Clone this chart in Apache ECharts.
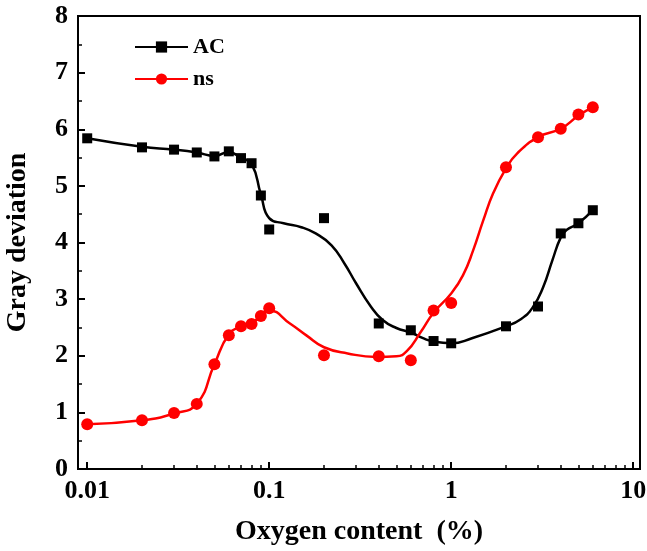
<!DOCTYPE html>
<html lang="en">
<head>
  <meta charset="UTF-8">
  <title>Gray deviation</title>
  <style>
    html,body{margin:0;padding:0;background:#fff;}
    #main{width:647px;height:551px;}
  </style>
</head>
<body>
  <div id="main"></div>
  <script src="https://cdn.jsdelivr.net/npm/echarts@6/dist/echarts.min.js"></script>
  <script>
    // measured samples: oxygen content (%) and gray deviation
    const xValues=[0.01,0.02,0.03,0.04,0.05,0.06,0.07,0.08,0.09,0.1,0.2,0.4,0.6,0.8,1,2,3,4,5,6];
    const acValues=[5.84,5.68,5.64,5.59,5.52,5.61,5.49,5.40,4.83,4.23,4.43,2.57,2.45,2.26,2.22,2.52,2.87,4.16,4.34,4.57];
    const nsValues=[0.79,0.86,0.99,1.15,1.85,2.36,2.52,2.56,2.70,2.84,2.01,1.99,1.92,2.80,2.93,5.33,5.86,6.01,6.26,6.39];

    // fitted curves (they do not pass through every sample)
    const acCurveX=[0.01,0.02,0.03,0.04,0.05,0.06,0.07,0.08,0.09,0.1,0.12,0.15,0.18,0.22,0.26,0.3,0.36,0.42,0.5,0.6,0.7,0.8,1,1.3,2,2.4,2.8,3.2,3.6,4,4.3,5,6];
    const acCurveY=[5.84,5.69,5.64,5.59,5.53,5.60,5.49,5.39,4.85,4.43,4.34,4.27,4.16,3.95,3.62,3.28,2.88,2.63,2.49,2.41,2.31,2.25,2.22,2.31,2.52,2.64,2.85,3.21,3.69,4.09,4.22,4.34,4.57];
    const nsCurveX=[0.01,0.02,0.03,0.04,0.05,0.06,0.07,0.08,0.09,0.1,0.13,0.16,0.2,0.27,0.39,0.5,0.57,0.68,0.8,1,1.16,1.32,1.5,1.7,2,2.3,3,4,5,6];
    const nsCurveY=[0.79,0.86,0.98,1.15,1.85,2.38,2.52,2.57,2.71,2.80,2.57,2.36,2.15,2.04,1.98,1.99,2.08,2.42,2.76,3.10,3.42,3.86,4.39,4.87,5.31,5.57,5.86,6.01,6.24,6.39];

    const majorTicks=[0.01,0.1,1,10];
    const minorTicks=[0.02,0.03,0.04,0.05,0.06,0.07,0.08,0.09,0.2,0.3,0.4,0.5,0.6,0.7,0.8,0.9,2,3,4,5,6,7,8,9];

    const font='Liberation Serif';
    const chart=echarts.init(document.getElementById('main'));

    const zip=(xs,ys)=>xs.map((x,i)=>[x,ys[i]]);

    const baseX={
      type:'log',
      logBase:10,
      min:0.0089,
      max:10.9,
      position:'bottom',
      splitLine:{show:false},
      axisLine:{lineStyle:{color:'#000',width:2}}
    };

    const option={
      animation:false,
      grid:{left:78,right:7,top:16,bottom:82,show:true,borderColor:'#000',borderWidth:2,
        containLabel:false,outerBoundsMode:'none'},
      legend:{
        orient:'vertical',
        left:129,
        top:31,
        itemWidth:53,
        itemHeight:14,
        itemGap:10,
        textStyle:{fontFamily:font,fontWeight:'bold',fontSize:22,color:'#000'},
        data:['AC','ns']
      },
      xAxis:[
        Object.assign({},baseX,{
          name:'Oxygen content  (%)',
          nameLocation:'middle',
          nameGap:49,
          nameTextStyle:{fontFamily:font,fontWeight:'bold',fontSize:28,color:'#000'},
          axisTick:{inside:true,length:7,lineStyle:{color:'#000',width:2},customValues:majorTicks},
          axisLabel:{margin:9,fontFamily:font,fontWeight:'bold',fontSize:26,color:'#000',
            customValues:majorTicks,formatter:v=>String(+v.toPrecision(2))}
        }),
        Object.assign({},baseX,{
          axisTick:{inside:true,length:4,lineStyle:{color:'#000',width:1.5},customValues:minorTicks},
          axisLabel:{show:false}
        })
      ],
      yAxis:{
        type:'value',
        min:0,
        max:8,
        interval:1,
        name:'Gray deviation',
        nameLocation:'middle',
        nameGap:46,
        nameTextStyle:{fontFamily:font,fontWeight:'bold',fontSize:28,color:'#000'},
        splitLine:{show:false},
        axisLine:{show:true,lineStyle:{color:'#000',width:2}},
        axisTick:{inside:true,length:7,lineStyle:{color:'#000',width:2}},
        minorTick:{show:true,splitNumber:2,length:4,lineStyle:{color:'#000',width:1.5}},
        axisLabel:{margin:10,fontFamily:font,fontWeight:'bold',fontSize:26,color:'#000'}
      },
      series:[
        {
          name:'AC',
          type:'line',
          data:zip(acCurveX,acCurveY),
          smooth:0.5,
          symbol:'rect',
          showSymbol:false,
          itemStyle:{color:'#000'},
          lineStyle:{color:'#000',width:2.5}
        },
        {
          name:'ns',
          type:'line',
          data:zip(nsCurveX,nsCurveY),
          smooth:0.5,
          symbol:'circle',
          showSymbol:false,
          itemStyle:{color:'#ff0000'},
          lineStyle:{color:'#ff0000',width:2.5}
        },
        {
          name:'AC',
          type:'scatter',
          data:zip(xValues,acValues),
          symbol:'rect',
          symbolSize:10,
          itemStyle:{color:'#000',opacity:1}
        },
        {
          name:'ns',
          type:'scatter',
          data:zip(xValues,nsValues),
          symbol:'circle',
          symbolSize:12,
          itemStyle:{color:'#ff0000',opacity:1}
        }
      ]
    };
    chart.setOption(option);
  </script>
</body>
</html>
